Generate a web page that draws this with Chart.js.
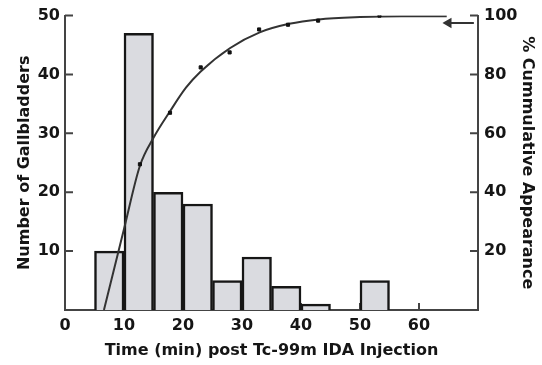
<!DOCTYPE html>
<html>
<head>
<meta charset="utf-8">
<script src="https://cdn.jsdelivr.net/npm/chart.js@4.4.1/dist/chart.umd.min.js"></script>
<style>
  html, body { margin: 0; padding: 0; background: #fff; }
  #wrap { width: 542px; height: 365px; }
</style>
</head>
<body>
<div id="wrap"><canvas id="chart" width="542" height="365"></canvas></div>
<script>
// histogram bins (minutes) and counts
const binStart = [5, 10, 15, 20, 25, 30, 35, 40, 50];
const binWidth = 5;
const gallbladders = [10, 47, 20, 18, 5, 9, 4, 1, 5];

// fitted cumulative curve
const curveTime = [6.6, 10, 12.7, 15, 17.8, 20.5, 23, 28, 33, 38, 43, 50, 57, 64.7];
const curvePct  = [0, 27.5, 49, 58.5, 67.5, 75.5, 81, 89, 94.3, 97.2, 98.7, 99.5, 99.8, 99.8];

// measured points on the curve
const markerTime = [12.7, 17.8, 23, 27.9, 32.9, 37.8, 42.9, 53.3];
const markerPct  = [49.5, 67, 82.4, 87.5, 95.3, 96.9, 98.3, 100];

// little arrow at the right end
const arrowTime = [65, 69.3];
const arrowPct = [97.5, 97.5];

const leftTicks = [10, 20, 30, 40, 50];
const rightTicks = [20, 40, 60, 80, 100];
const xTicks = [0, 10, 20, 30, 40, 50, 60];

const ink = '#151515';
const axisColor = '#444';
const font = { family: 'DejaVu Sans', weight: 'bold', size: 16 };
const titleFont = { family: 'DejaVu Sans', weight: 'bold', size: 16 };

// inward tick marks (chart.js only draws them outward)
const innerTicks = {
    id: 'innerTicks',
    beforeDatasetsDraw(chart) {
        const { ctx, scales } = chart;
        const x = scales.x, y = scales.y, y2 = scales.y2;
        ctx.save();
        ctx.strokeStyle = axisColor;
        ctx.lineWidth = 2;
        ctx.beginPath();
        xTicks.slice(1).forEach(v => {
            const px = x.getPixelForValue(v);
            ctx.moveTo(px, y.bottom);
            ctx.lineTo(px, y.bottom - 7);
        });
        leftTicks.forEach(v => {
            const py = y.getPixelForValue(v);
            ctx.moveTo(x.left, py);
            ctx.lineTo(x.left + 8, py);
        });
        rightTicks.forEach(v => {
            const py = y2.getPixelForValue(v);
            ctx.moveTo(x.right, py);
            ctx.lineTo(x.right - 8, py);
        });
        ctx.stroke();
        ctx.restore();
    }
};

new Chart(document.getElementById('chart'), {
    type: 'bar',
    data: {
        datasets: [
            {
                type: 'line',
                data: arrowTime.map((t, i) => ({ x: t, y: arrowPct[i] })),
                yAxisID: 'y2',
                borderColor: '#333',
                borderWidth: 2,
                pointStyle: 'triangle',
                pointRotation: -90,
                pointRadius: [4, 0],
                pointBackgroundColor: '#333',
                pointBorderColor: '#333',
                order: 0
            },
            {
                type: 'line',
                data: markerTime.map((t, i) => ({ x: t, y: markerPct[i] })),
                yAxisID: 'y2',
                showLine: false,
                pointStyle: 'rect',
                pointRadius: 2.2,
                pointBackgroundColor: '#111',
                pointBorderColor: '#111',
                order: 1
            },
            {
                type: 'line',
                data: curveTime.map((t, i) => ({ x: t, y: curvePct[i] })),
                yAxisID: 'y2',
                borderColor: '#333',
                borderWidth: 2,
                pointRadius: 0,
                cubicInterpolationMode: 'monotone',
                order: 2
            },
            {
                type: 'bar',
                data: binStart.map((s, i) => ({ x: s + binWidth / 2, y: gallbladders[i] })),
                yAxisID: 'y',
                backgroundColor: '#dadbe0',
                borderColor: '#161616',
                borderWidth: 2.5,
                categoryPercentage: 1,
                barPercentage: 1,
                order: 3
            }
        ]
    },
    options: {
        responsive: false,
        animation: false,
        layout: { padding: { top: 14, bottom: 0, left: 0, right: 0 } },
        plugins: { legend: { display: false }, tooltip: { enabled: false } },
        scales: {
            x: {
                type: 'linear',
                offset: false,
                min: 0, max: 70,
                afterFit: s => { s.height = 55; },
                afterBuildTicks: s => { s.ticks = xTicks.map(v => ({ value: v })); },
                grid: { display: false, drawTicks: false },
                border: { display: true, color: axisColor, width: 2 },
                ticks: { color: ink, font: font, padding: 6 },
                title: {
                    display: true, text: 'Time (min) post Tc-99m IDA Injection',
                    color: ink, font: titleFont, padding: { top: 0, bottom: 5 }
                }
            },
            y: {
                position: 'left',
                min: 0, max: 50,
                afterFit: s => { s.width = 65; },
                afterBuildTicks: s => { s.ticks = leftTicks.map(v => ({ value: v })); },
                grid: { display: false, drawTicks: false },
                border: { display: true, color: axisColor, width: 2 },
                ticks: { color: ink, font: font, padding: 5 },
                title: {
                    display: true, text: 'Number of Gallbladders',
                    color: ink, font: titleFont, padding: { top: 15, bottom: 0 }
                }
            },
            y2: {
                position: 'right',
                min: 0, max: 100,
                afterFit: s => { s.width = 64; },
                afterBuildTicks: s => { s.ticks = rightTicks.map(v => ({ value: v })); },
                grid: { display: false, drawTicks: false },
                border: { display: true, color: axisColor, width: 2 },
                ticks: { color: ink, font: font, padding: 6 },
                title: {
                    display: true, text: '% Cummulative Appearance',
                    color: ink, font: titleFont, padding: { top: 5, bottom: 0 }
                }
            }
        }
    },
    plugins: [innerTicks]
});
</script>
</body>
</html>
